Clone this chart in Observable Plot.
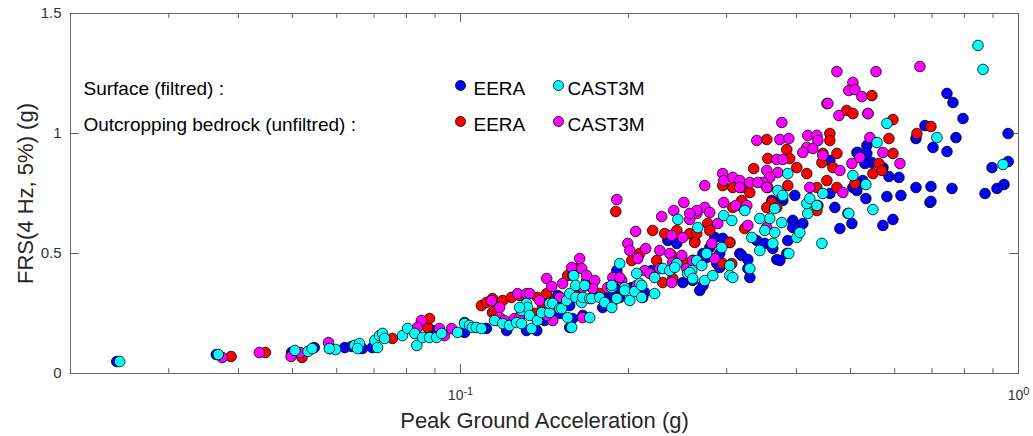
<!DOCTYPE html>
<html><head><meta charset="utf-8">
<script src="https://cdn.jsdelivr.net/npm/d3@7"></script>
<script src="https://cdn.jsdelivr.net/npm/@observablehq/plot@0.6"></script>
<style>body{margin:0;background:#fff} svg{display:block}</style>
</head><body><div id="chart"></div>
<script>
// [Peak Ground Acceleration (g), FRS 4 Hz 5% (g)]
const eeraSurface = [[0.0242,0.05],[0.0365,0.079],[0.0498,0.088],[0.0547,0.108],[0.062,0.108],[0.0638,0.113],[0.0667,0.104],[0.0695,0.108],[0.0891,0.179],[0.1017,0.171],[0.1017,0.2125],[0.1113,0.188],[0.121,0.179],[0.1313,0.179],[0.137,0.179],[0.1415,0.221],[0.1506,0.25],[0.1569,0.192],[0.1588,0.229],[0.1569,0.283],[0.1494,0.325],[0.1754,0.325],[0.1875,0.325],[0.1929,0.354],[0.2027,0.358],[0.2138,0.3375],[0.22,0.429],[0.1656,0.242],[0.1798,0.275],[0.1813,0.313],[0.1867,0.296],[0.1929,0.317],[0.2121,0.317],[0.1906,0.429],[0.2503,0.379],[0.2607,0.388],[0.2353,0.554],[0.2441,0.542],[0.2684,0.346],[0.272,0.367],[0.272,0.5],[0.2762,0.483],[0.2915,0.5],[0.2797,0.525],[0.2856,0.567],[0.2951,0.563],[0.3038,0.546],[0.2879,0.458],[0.2915,0.442],[0.3166,0.5],[0.3192,0.492],[0.3273,0.4375],[0.3273,0.475],[0.33,0.4],[0.3396,0.554],[0.3511,0.542],[0.3628,0.521],[0.3688,0.475],[0.3735,0.471],[0.3844,0.5],[0.386,0.554],[0.3973,0.617],[0.394,0.638],[0.394,0.608],[0.4107,0.625],[0.437,0.7],[0.4687,0.692],[0.4591,0.75],[0.5049,0.775],[0.4946,0.667],[0.4785,0.604],[0.5028,0.625],[0.5715,0.617],[0.5956,0.642],[0.694,0.713],[0.3973,0.742],[0.3781,0.721],[0.3613,0.721],[0.3766,0.729],[0.4591,0.8875],[0.5133,0.921],[0.5349,0.95],[0.5154,0.921],[0.5349,0.917],[0.5461,0.879],[0.5305,0.875],[0.5715,0.858],[0.5859,0.821],[0.6106,0.817],[0.7026,0.942],[0.7444,0.925],[0.8965,0.858],[0.9583,0.883],[0.7444,1.167],[0.7631,1.129],[0.7952,1.0625],[0.6798,1.033],[0.655,0.979],[0.7726,0.983],[0.958,1.0],[0.5133,0.7625],[0.5327,0.729],[0.581,0.7375],[0.6156,0.742],[0.655,0.775],[0.6968,0.779],[0.6968,0.717],[0.76,0.771],[0.871,0.75],[0.915,0.771],[0.942,0.7875],[0.526,0.804]];

const cast3mSurface = [[0.0245,0.05],[0.0368,0.079],[0.0505,0.096],[0.0533,0.092],[0.0542,0.104],[0.0597,0.1],[0.0582,0.104],[0.0646,0.117],[0.0659,0.125],[0.0654,0.104],[0.0702,0.1375],[0.0716,0.158],[0.0725,0.167],[0.0731,0.146],[0.071,0.108],[0.0787,0.158],[0.0804,0.1875],[0.0828,0.167],[0.0835,0.117],[0.0855,0.15],[0.088,0.15],[0.0906,0.15],[0.0925,0.167],[0.0988,0.171],[0.1017,0.208],[0.1038,0.2],[0.105,0.192],[0.1067,0.192],[0.109,0.1875],[0.1151,0.221],[0.119,0.208],[0.1224,0.2],[0.126,0.2125],[0.1286,0.208],[0.1292,0.271],[0.1313,0.292],[0.1286,0.2625],[0.1319,0.275],[0.133,0.242],[0.1341,0.1875],[0.1276,0.275],[0.1374,0.221],[0.1398,0.254],[0.1444,0.254],[0.1444,0.292],[0.1463,0.292],[0.1506,0.271],[0.1518,0.271],[0.155,0.304],[0.1556,0.233],[0.1582,0.192],[0.1569,0.333],[0.1595,0.408],[0.1609,0.367],[0.1609,0.317],[0.1649,0.296],[0.1656,0.317],[0.1669,0.367],[0.1704,0.3125],[0.1718,0.3125],[0.1704,0.233],[0.1776,0.317],[0.1813,0.296],[0.1867,0.275],[0.1867,0.358],[0.1867,0.367],[0.1906,0.3125],[0.1929,0.458],[0.1969,0.358],[0.1969,0.346],[0.2011,0.304],[0.2052,0.342],[0.2069,0.417],[0.2095,0.375],[0.2112,0.367],[0.2112,0.317],[0.2228,0.4],[0.2228,0.333],[0.2304,0.4375],[0.2372,0.429],[0.2441,0.458],[0.2421,0.442],[0.2452,0.642],[0.2554,0.417],[0.2597,0.429],[0.2651,0.471],[0.2662,0.608],[0.2575,0.421],[0.2607,0.396],[0.2706,0.45],[0.274,0.3875],[0.2762,0.5],[0.2832,0.408],[0.2939,0.525],[0.2963,0.658],[0.3038,0.45],[0.3038,0.408],[0.3076,0.4],[0.3063,0.6375],[0.3232,0.679],[0.33,0.4375],[0.3327,0.567],[0.3438,0.646],[0.3438,0.5125],[0.3511,0.596],[0.3583,0.646],[0.3628,0.542],[0.3658,0.5875],[0.3766,0.629],[0.3704,0.7625],[0.386,0.833],[0.3781,0.742],[0.3658,0.6875],[0.3876,0.5],[0.4006,0.567],[0.4056,0.5875],[0.4192,0.667],[0.4227,0.7125],[0.4174,0.708],[0.4227,0.729],[0.4352,0.7],[0.4461,0.75],[0.4443,0.542],[0.4965,0.667],[0.5049,0.825],[0.5484,0.683],[0.5327,0.7875],[0.581,1.042],[0.5577,0.9625],[0.7142,0.983],[0.9382,0.871],[0.8461,1.367],[0.8638,1.267]];

const eeraBedrock = [[0.0388,0.071],[0.0447,0.0875],[0.052,0.067],[0.0583,0.104],[0.0755,0.146],[0.0873,0.192],[0.088,0.229],[0.109,0.283],[0.1113,0.296],[0.1141,0.3125],[0.1141,0.254],[0.116,0.221],[0.1151,0.2625],[0.119,0.304],[0.1234,0.317],[0.1276,0.325],[0.1374,0.317],[0.1403,0.275],[0.1357,0.25],[0.1427,0.317],[0.1427,0.333],[0.1494,0.304],[0.1556,0.408],[0.1621,0.4375],[0.1683,0.3875],[0.1621,0.358],[0.1776,0.333],[0.1898,0.675],[0.2027,0.471],[0.2095,0.5],[0.2247,0.471],[0.2391,0.492],[0.2502,0.471],[0.2607,0.471],[0.221,0.596],[0.2323,0.583],[0.2441,0.596],[0.2575,0.583],[0.2629,0.55],[0.2304,0.379],[0.2401,0.396],[0.2651,0.583],[0.2629,0.546],[0.2774,0.625],[0.2797,0.596],[0.3038,0.546],[0.3232,0.604],[0.2951,0.458],[0.3063,0.458],[0.3192,0.721],[0.3205,0.692],[0.3076,0.692],[0.2951,0.783],[0.3076,0.775],[0.3192,0.775],[0.33,0.754],[0.3554,0.775],[0.386,0.783],[0.4174,0.833],[0.3613,0.7125],[0.3688,0.692],[0.3539,0.692],[0.4352,0.679],[0.3353,0.854],[0.3844,0.933],[0.3554,0.896],[0.389,0.896],[0.4006,0.858],[0.3539,0.975],[0.4461,0.917],[0.4727,0.917],[0.4443,0.879],[0.4649,0.858],[0.4535,0.804],[0.4727,0.775],[0.4352,0.775],[0.4591,1.0],[0.4591,0.971],[0.4535,1.125],[0.4923,1.096],[0.5049,1.083],[0.5461,1.158],[0.5372,1.083],[0.5957,1.058],[0.6968,1.029],[0.6575,1.0],[0.5859,0.979],[0.5957,0.917],[0.5621,0.875],[0.5484,0.833],[0.5691,0.846],[0.5091,0.792]];

const cast3mBedrock = [[0.0374,0.067],[0.0436,0.0875],[0.0497,0.071],[0.0516,0.0875],[0.058,0.129],[0.0851,0.221],[0.0837,0.192],[0.0917,0.1875],[0.0936,0.158],[0.0964,0.1875],[0.1137,0.304],[0.1175,0.275],[0.1175,0.233],[0.1199,0.221],[0.1266,0.333],[0.1313,0.333],[0.1249,0.229],[0.1276,0.233],[0.133,0.333],[0.1386,0.304],[0.1444,0.2625],[0.1506,0.317],[0.1463,0.221],[0.1427,0.396],[0.1457,0.3625],[0.1524,0.375],[0.1588,0.408],[0.1635,0.479],[0.1582,0.442],[0.1649,0.4375],[0.1683,0.408],[0.174,0.3875],[0.1726,0.354],[0.1656,0.358],[0.1656,0.233],[0.1427,0.242],[0.1945,0.3875],[0.1906,0.725],[0.206,0.592],[0.2294,0.654],[0.2411,0.679],[0.2513,0.7125],[0.2651,0.667],[0.2575,0.642],[0.2391,0.575],[0.2502,0.567],[0.1994,0.542],[0.2147,0.521],[0.2276,0.5125],[0.2372,0.5],[0.2492,0.492],[0.2011,0.5125],[0.2078,0.479],[0.2138,0.429],[0.2183,0.417],[0.2276,0.4375],[0.2401,0.4625],[0.2544,0.4375],[0.2391,0.379],[0.1875,0.4],[0.1836,0.358],[0.1929,0.4],[0.2069,0.367],[0.4727,1.258],[0.5049,1.2125],[0.4965,1.179],[0.5091,1.183],[0.4554,1.125],[0.4766,1.075],[0.3766,1.046],[0.3396,0.971],[0.3735,0.975],[0.3876,0.979],[0.4192,0.992],[0.4352,0.992],[0.437,0.971],[0.4174,0.942],[0.428,0.9375],[0.4107,0.921],[0.4461,0.908],[0.4785,0.846],[0.5028,0.875],[0.4844,0.754],[0.3688,0.892],[0.3781,0.892],[0.3539,0.846],[0.3704,0.8375],[0.3583,0.817],[0.3482,0.796],[0.2951,0.833],[0.3076,0.817],[0.3166,0.804],[0.2963,0.804],[0.274,0.783],[0.33,0.796],[0.341,0.796],[0.3539,0.775],[0.3166,0.775],[0.4227,0.775],[0.2963,0.7125],[0.3114,0.7],[0.3259,0.7],[0.274,0.692],[0.2651,0.679],[0.2797,0.671],[0.2575,0.667],[0.3273,0.617],[0.3539,0.608],[0.2891,0.625],[0.2821,0.542],[0.2856,0.479],[0.2607,0.471],[0.5554,1.258],[0.6658,1.279],[0.524,1.154],[0.5372,1.083],[0.5416,0.983],[0.5197,0.9],[0.5715,0.921],[0.6131,0.875]];

const xMajorTicks = [0.1, 1];
const xMinorTicks = [0.02,0.03,0.04,0.05,0.06,0.07,0.08,0.09,0.2,0.3,0.4,0.5,0.6,0.7,0.8,0.9];
const yTicks = [0, 0.5, 1, 1.5];
const xLabel = "Peak Ground Acceleration (g)";
const yLabel = "FRS(4 Hz, 5%) (g)";
const legendGroups = ["Surface (filtred) :", "Outcropping bedrock (unfiltred) :"];
const legendNames = ["EERA", "CAST3M"];

const colors = {eeraSurface:"#0000ff", cast3mSurface:"#00ffff", eeraBedrock:"#ff0000", cast3mBedrock:"#ff00ff"};
// drawing order
const layers = [["eeraSurface", eeraSurface], ["eeraBedrock", eeraBedrock], ["cast3mBedrock", cast3mBedrock], ["cast3mSurface", cast3mSurface]];

const W = 1033, H = 436, mL = 70, mR = 15, mT = 13, mB = 63;
const iW = W - mL - mR, iH = H - mT - mB;
const axisColor = "#666";
const font = "'Liberation Sans', Arial, Helvetica, sans-serif";

const dotMarks = layers.map(([k, arr]) => Plot.dot(arr, {x: d => d[0], y: d => d[1], r: 5.3, fill: colors[k], stroke: "#000", strokeWidth: 0.8}));

const legendMarks = [];
const rowDy = [75, 111], markDy = [72, 108];
const rowKeys = [["eeraSurface", "cast3mSurface"], ["eeraBedrock", "cast3mBedrock"]];
legendGroups.forEach((g, i) => {
  legendMarks.push(Plot.text([g], {frameAnchor: "top-left", dx: 13, dy: rowDy[i], textAnchor: "start", lineAnchor: "middle", fontSize: 19, fill: "#000"}));
  rowKeys[i].forEach((k, j) => {
    const mdx = j === 0 ? 390 : 488, tdx = j === 0 ? 403 : 497;
    legendMarks.push(Plot.dot([k], {frameAnchor: "top-left", dx: mdx, dy: markDy[i], r: 5, fill: colors[k], stroke: "#000", strokeWidth: 0.8}));
    legendMarks.push(Plot.text([legendNames[j]], {frameAnchor: "top-left", dx: tdx, dy: rowDy[i], textAnchor: "start", lineAnchor: "middle", fontSize: 19, fill: "#000"}));
  });
});

const chart = Plot.plot({
  width: W, height: H,
  marginLeft: mL, marginRight: mR, marginTop: mT, marginBottom: mB,
  style: {fontFamily: font, background: "#fff", overflow: "visible"},
  x: {type: "log", domain: [0.02, 1]},
  y: {domain: [0, 1.5]},
  marks: [
    Plot.axisX(xMajorTicks, {tickSize: 0, tickPadding: 17, tickFormat: d => "10^" + Math.round(Math.log10(d)), fontSize: 14, fill: "#333", label: null}),
    Plot.axisY(yTicks, {tickSize: 0, tickPadding: 9, tickFormat: d => String(d), fontSize: 15, fill: "#333", label: null}),
    Plot.tickX(xMinorTicks, {x: d => d, insetTop: iH - 5, stroke: axisColor}),
    Plot.tickX(xMinorTicks, {x: d => d, insetBottom: iH - 5, stroke: axisColor}),
    Plot.tickX(xMajorTicks, {x: d => d, insetTop: iH - 9, stroke: axisColor}),
    Plot.tickX(xMajorTicks, {x: d => d, insetBottom: iH - 9, stroke: axisColor}),
    Plot.tickY(yTicks, {y: d => d, insetRight: iW - 9, stroke: axisColor}),
    Plot.tickY(yTicks, {y: d => d, insetLeft: iW - 9, stroke: axisColor}),
    Plot.frame({stroke: axisColor}),
    ...dotMarks,
    Plot.text([xLabel], {frameAnchor: "bottom", dy: 47, fontSize: 22, lineAnchor: "middle", fill: "#262626"}),
    Plot.text([yLabel], {frameAnchor: "left", dx: -45, rotate: -90, fontSize: 22, lineAnchor: "middle", textAnchor: "middle", fill: "#262626"}),
    ...legendMarks
  ]
});

// superscript exponents in the x tick labels
const ns = "http://www.w3.org/2000/svg";
chart.querySelectorAll('g[aria-label="x-axis tick label"] text').forEach(t => {
  const s = t.textContent;
  if (!s.includes("^")) return;
  const [base, exp] = s.split("^");
  t.textContent = "";
  const a = document.createElementNS(ns, "tspan"); a.textContent = base;
  const b = document.createElementNS(ns, "tspan"); b.textContent = exp;
  b.setAttribute("dy", "-0.5em"); b.setAttribute("font-size", "11");
  t.appendChild(a); t.appendChild(b);
});

document.getElementById("chart").appendChild(chart);
</script>
</body></html>
